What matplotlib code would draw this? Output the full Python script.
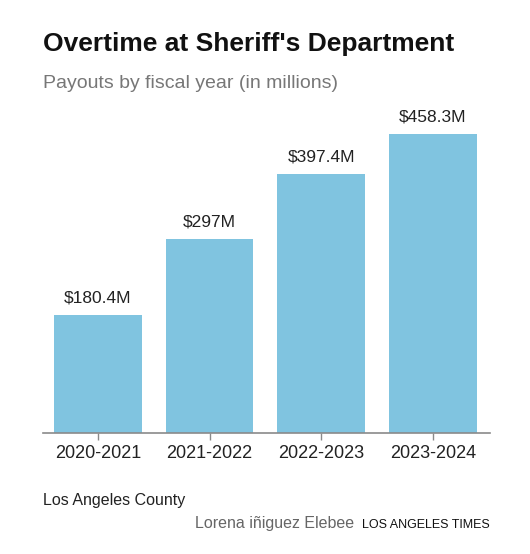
import matplotlib.pyplot as plt

years = ["2020-2021", "2021-2022", "2022-2023", "2023-2024"]
payouts = [180.4, 297, 397.4, 458.3]
labels = ["$180.4M", "$297M", "$397.4M", "$458.3M"]

plt.rcParams['font.family'] = ['Liberation Sans', 'DejaVu Sans']

fig = plt.figure(figsize=(5.3, 5.54), dpi=100)
ax = fig.add_axes([43 / 530, 121 / 554, 447 / 530, 333 / 554])

x = range(len(years))
bars = ax.bar(x, payouts, width=0.786, color='#80c4e0', zorder=2)
for b, lab in zip(bars, labels):
    ax.annotate(lab, (b.get_x() + b.get_width() / 2, b.get_height()),
                xytext=(0, 7), textcoords='offset points',
                ha='center', va='bottom', fontsize=12.5, color='#222222')

ax.set_xlim(-0.49, 3.51)
ax.set_ylim(0, 510.6)
ax.set_xticks(list(x))
ax.set_xticklabels(years, fontsize=13, color='#222222')
ax.set_yticks([])
for s in ['top', 'right', 'left']:
    ax.spines[s].set_visible(False)
ax.spines['bottom'].set_color('#8a8a8a')
ax.spines['bottom'].set_linewidth(1.2)
ax.tick_params(axis='x', length=5, width=1, color='#8a8a8a', pad=4)

fig.text(43 / 530, 1 - 51 / 554, "Overtime at Sheriff's Department",
         fontsize=19, fontweight='bold', color='#111111', va='baseline')
fig.text(43 / 530, 1 - 88 / 554, "Payouts by fiscal year (in millions)",
         fontsize=14, color='#777777', va='baseline')
fig.text(43 / 530, 1 - 505 / 554, "Los Angeles County",
         fontsize=11.5, color='#222222', va='baseline')
fig.text(490 / 530, 1 - 528 / 554, "LOS ANGELES TIMES",
         fontsize=9, color='#111111', va='baseline', ha='right')
fig.text(354 / 530, 1 - 528 / 554, "Lorena iñiguez Elebee",
         fontsize=11.5, color='#666666', va='baseline', ha='right')

fig.savefig("out.png", dpi=100, facecolor='white')
